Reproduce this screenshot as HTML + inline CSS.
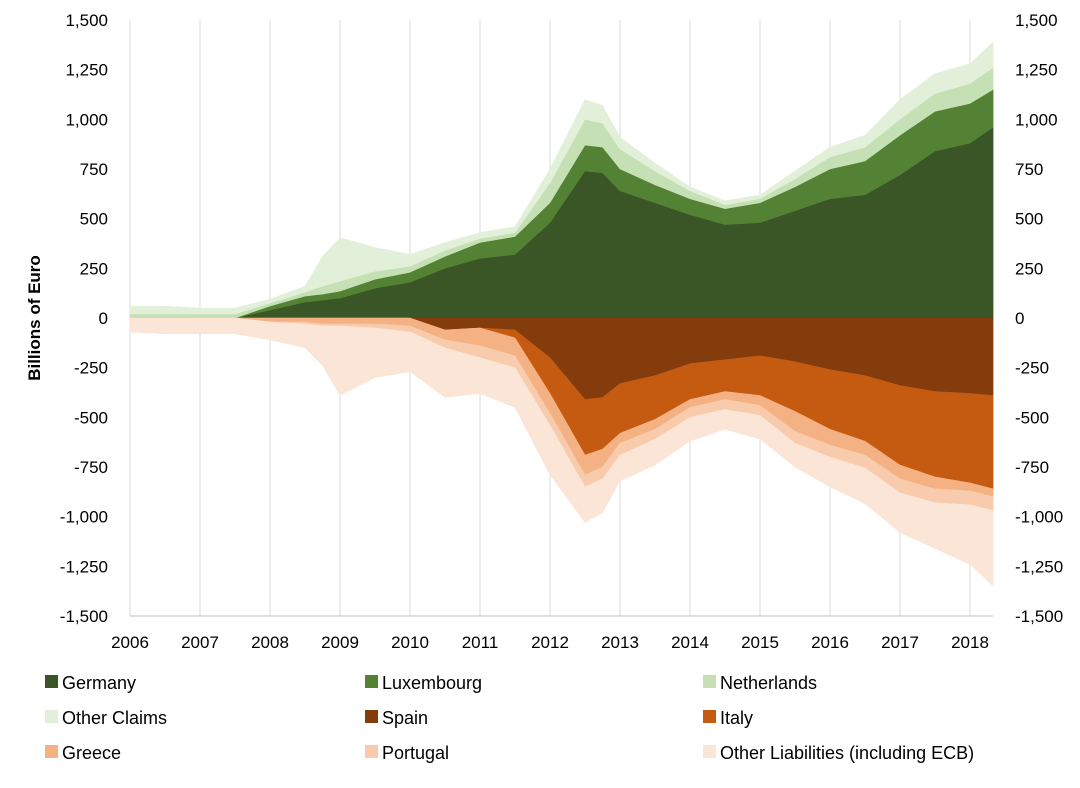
<!DOCTYPE html>
<html><head><meta charset="utf-8"><style>
body{margin:0;background:#fff;font-family:"Liberation Sans",sans-serif}
svg text{font-family:"Liberation Sans",sans-serif;fill:#000}
</style></head><body>
<svg id="chart" width="1080" height="783" xmlns="http://www.w3.org/2000/svg">
<g id="grid"></g>
<g id="areas"></g>
<g id="axes"></g>
<text transform="translate(40,318) rotate(-90)" text-anchor="middle" font-size="17" font-weight="bold">Billions of Euro</text>
<g id="legend"></g>
</svg>
<script>
const times=[2006,2006.5,2007,2007.5,2008,2008.5,2008.75,2009,2009.5,2010,2010.5,2011,2011.5,2012,2012.5,2012.75,2013,2013.5,2014,2014.5,2015,2015.5,2016,2016.5,2017,2017.5,2018,2018.33];
const germany=[0,0,0,0,40,80,90,100,150,180,250,300,320,480,740,730,640,580,520,470,480,540,600,620,720,840,880,960];
const luxembourg=[0,0,0,0,20,30,30,35,45,50,60,80,90,100,130,130,110,90,80,80,100,120,150,170,200,200,200,190];
const netherlands=[20,20,20,20,15,20,40,50,40,30,30,20,20,100,130,120,100,70,40,20,20,40,60,70,80,90,100,110];
const otherClaims=[40,40,30,30,20,30,150,220,120,60,40,30,30,70,100,90,60,40,20,20,20,40,50,60,100,100,100,130];
const spain=[0,0,0,0,0,0,0,0,0,0,60,50,60,200,410,400,330,290,230,210,190,220,260,290,340,370,380,390];
const italy=[0,0,0,0,0,0,0,0,0,0,0,0,40,180,280,260,250,220,180,160,200,250,300,330,400,430,450,470];
const greece=[0,0,0,0,20,20,30,30,30,40,50,90,90,100,100,90,50,50,40,40,50,100,80,70,70,60,40,40];
const portugal=[0,0,0,0,0,10,10,10,20,30,40,60,60,60,60,60,60,50,50,50,50,60,60,65,70,70,70,70];
const otherLiab=[70,80,80,80,90,120,200,350,250,200,250,180,200,250,180,170,130,130,120,100,120,120,150,180,200,230,300,380];
const yTicks=[1500,1250,1000,750,500,250,0,-250,-500,-750,-1000,-1250,-1500];
const xYears=[2006,2007,2008,2009,2010,2011,2012,2013,2014,2015,2016,2017,2018];

const NS="http://www.w3.org/2000/svg";
const X=t=>130+(t-2006)*70;
const Y=v=>318-v*298/1500;
function mk(tag,attrs,parent){const e=document.createElementNS(NS,tag);for(const k in attrs)e.setAttribute(k,attrs[k]);parent.appendChild(e);return e;}
const grid=document.getElementById('grid'),areas=document.getElementById('areas'),axes=document.getElementById('axes'),legend=document.getElementById('legend');
xYears.forEach(y=>{const l=mk('line',{x1:X(y),x2:X(y),y1:20,y2:616,stroke:'#d9d9d9','stroke-width':1},grid);

});
const pos=[["Germany",germany,"#3a5526"],["Luxembourg",luxembourg,"#548235"],["Netherlands",netherlands,"#c5e0b4"],["Other Claims",otherClaims,"#e2f0d9"]];
const neg=[["Spain",spain,"#843c0c"],["Italy",italy,"#c55a11"],["Greece",greece,"#f4b183"],["Portugal",portugal,"#f8cbad"],["Other Liabilities (including ECB)",otherLiab,"#fbe5d6"]];
function stack(list,sign){let base=times.map(()=>0);list.forEach(([name,vals,col])=>{const top=base.map((b,i)=>b+sign*vals[i]);
let d='M'+times.map((t,i)=>X(t)+','+Y(top[i])).join('L');
for(let i=times.length-1;i>=0;i--)d+='L'+X(times[i])+','+Y(base[i]);
const p=mk('path',{d:d+'Z',fill:col,stroke:col,'stroke-width':0.5},areas);


base=top;});}
stack(pos,1);stack(neg,-1);
mk('line',{x1:130,x2:993,y1:616,y2:616,stroke:'#bfbfbf'},axes);
yTicks.forEach(v=>{const s=v.toLocaleString('en-US');
const a=mk('text',{x:108,y:Y(v)+6,'text-anchor':'end','font-size':17},axes);a.textContent=s;


const b=mk('text',{x:1015,y:Y(v)+6,'text-anchor':'start','font-size':17},axes);b.textContent=s;

});
xYears.forEach(y=>{const t=mk('text',{x:X(y),y:648,'text-anchor':'middle','font-size':17},axes);t.textContent=y;

});
const all=pos.concat(neg);const cols=[45,365,703];
all.forEach(([name,vals,col],i)=>{const x=cols[i%3],y=682+Math.floor(i/3)*35;
const g=mk('g',{},legend);


mk('rect',{x:x,y:y-7,width:13,height:13,fill:col},g);
const t=mk('text',{x:x+17,y:y+7,'font-size':18},g);t.textContent=name;});
</script>
</body></html>
